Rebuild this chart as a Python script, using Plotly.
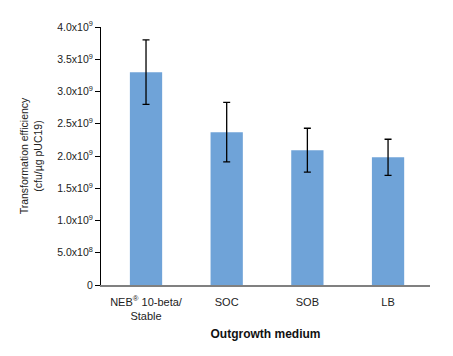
import plotly.graph_objects as go

categories = ["NEB<sup>®</sup> 10-beta/<br>Stable", "SOC", "SOB", "LB"]
efficiency = [3.3e9, 2.37e9, 2.09e9, 1.98e9]
error = [0.5e9, 0.46e9, 0.34e9, 0.28e9]
ytick_vals = [0, 0.5e9, 1.0e9, 1.5e9, 2.0e9, 2.5e9, 3.0e9, 3.5e9, 4.0e9]
ytick_text = ["0", "5.0x10<sup>8</sup>", "1.0x10<sup>9</sup>", "1.5x10<sup>9</sup>",
              "2.0x10<sup>9</sup>", "2.5x10<sup>9</sup>", "3.0x10<sup>9</sup>",
              "3.5x10<sup>9</sup>", "4.0x10<sup>9</sup>"]

FONT = "Liberation Sans, Arial, Helvetica, sans-serif"

fig = go.Figure(go.Bar(
    x=list(range(len(categories))),
    y=efficiency,
    width=0.40,
    marker=dict(color="#6fa3d8", line=dict(width=0)),
    error_y=dict(type="data", array=error, visible=True, color="black",
                 thickness=1.3, width=3.5),
))

fig.update_layout(
    width=445, height=348,
    margin=dict(l=93, r=23, t=19, b=71),
    paper_bgcolor="white", plot_bgcolor="white",
    font=dict(family=FONT, size=10, color="#222"),
    showlegend=False,
    xaxis=dict(
        range=[-0.558, 3.52],
        tickvals=list(range(len(categories))),
        ticktext=categories,
        showgrid=False, zeroline=False,
        showline=True, linecolor="#808080", linewidth=1.5,
        ticks="", tickfont=dict(size=11, color="#222"),
        ticklabelstandoff=6,
        title=dict(text="<b>Outgrowth medium</b>", font=dict(size=12, color="#111"), standoff=8),
    ),
    yaxis=dict(
        range=[0, 4e9],
        tickvals=ytick_vals, ticktext=ytick_text,
        showgrid=False, zeroline=False,
        showline=True, linecolor="black", linewidth=1,
        ticks="outside", ticklen=5, tickcolor="black", tickwidth=1,
        tickfont=dict(size=10.5, color="#222"),
        title=dict(text="Transformation efficiency<br>(cfu/µg pUC19)", font=dict(size=10.5, color="#222"), standoff=12),
    ),
)

fig.write_html("out.html")
